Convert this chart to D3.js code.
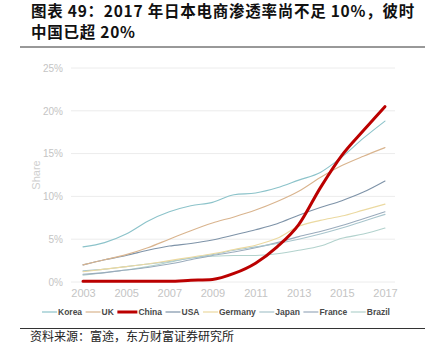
<!DOCTYPE html>
<html lang="zh">
<head>
<meta charset="UTF-8">
<title>日本电商渗透率</title>
<script src="https://cdn.jsdelivr.net/npm/d3@7"></script>
<style>
  body { margin: 0; background: #fff; }
  svg { display: block; }
</style>
</head>
<body>
<script>
// data (share of retail, %)
const years = d3.range(2003, 2018);
const korea   = [4.1, 4.6, 5.6, 7.1, 8.2, 8.9, 9.3, 10.2, 10.4, 11.0, 11.9, 12.8, 14.6, 16.8, 18.8];
const uk      = [2.0, 2.6, 3.2, 4.0, 5.0, 6.0, 6.9, 7.6, 8.4, 9.4, 10.6, 12.2, 13.6, 14.7, 15.7];
const china   = [0.1, 0.1, 0.1, 0.1, 0.1, 0.2, 0.3, 1.0, 2.2, 4.1, 6.7, 11.0, 14.8, 17.7, 20.5];
const usa     = [2.0, 2.6, 3.1, 3.7, 4.2, 4.5, 4.9, 5.5, 6.1, 6.8, 7.8, 8.7, 9.5, 10.5, 11.8];
const germany = [1.2, 1.5, 1.8, 2.1, 2.5, 2.9, 3.3, 3.8, 4.3, 5.1, 6.5, 7.2, 7.7, 8.4, 9.1];
const japan   = [1.3, 1.5, 1.8, 2.1, 2.4, 2.8, 3.2, 3.7, 4.1, 4.5, 5.0, 5.6, 6.3, 7.1, 7.9];
const france  = [0.9, 1.1, 1.4, 1.7, 2.1, 2.6, 3.1, 3.5, 4.0, 4.6, 5.3, 5.9, 6.6, 7.4, 8.2];
const brazil  = [0.8, 1.1, 1.4, 1.8, 2.3, 2.8, 3.0, 3.1, 3.1, 3.3, 3.7, 4.2, 5.1, 5.6, 6.3];

const yTicks = [0, 5, 10, 15, 20, 25];
const xTicks = [2003, 2005, 2007, 2009, 2011, 2013, 2015, 2017];

const series = [
  {name: "Korea",   values: korea,   color: "#8cc3ca", w: 1.1},
  {name: "UK",      values: uk,      color: "#d9b48e", w: 1.1},
  {name: "China",   values: china,   color: "#bb0000", w: 3},
  {name: "USA",     values: usa,     color: "#7e93a8", w: 1.1},
  {name: "Germany", values: germany, color: "#ebd9a0", w: 1.1},
  {name: "Japan",   values: japan,   color: "#a8c5cc", w: 1.1},
  {name: "France",  values: france,  color: "#9aabbc", w: 1.1},
  {name: "Brazil",  values: brazil,  color: "#b2d2cd", w: 1.1}
];

const W = 440, H = 352;
const svg = d3.select("body").append("svg")
  .attr("width", W)
  .attr("height", H);

// title, two lines
const titleLines = ["图表 49：2017 年日本电商渗透率尚不足 10%，彼时", "中国已超 20%"];
svg.append("g").selectAll("text")
  .data(titleLines)
  .enter().append("text")
  .attr("x", 31)
  .attr("y", (d, i) => 17 + i * 21)
  .attr("font-family", "'Noto Sans CJK SC', sans-serif")
  .attr("font-weight", "bold")
  .attr("font-size", 15.5)
  .attr("letter-spacing", 0.75)
  .attr("fill", "#111")
  .text(d => d);

svg.append("line")
  .attr("x1", 20).attr("x2", 425)
  .attr("y1", 47).attr("y2", 47)
  .attr("stroke", "#333").attr("stroke-width", 1);

// scales
const x = d3.scaleLinear().domain([2003, 2017]).range([83, 385]);
const y = d3.scaleLinear().domain([0, 25]).range([282, 68]);

// grid
svg.append("g").selectAll("line")
  .data(yTicks)
  .enter().append("line")
  .attr("x1", 71).attr("x2", 395)
  .attr("y1", d => y(d)).attr("y2", d => y(d))
  .attr("stroke", "#ececec").attr("stroke-width", 1);

// y axis labels
const yAxis = svg.append("g")
  .attr("transform", "translate(63,0)")
  .call(d3.axisLeft(y).tickValues(yTicks).tickFormat(d => d + "%").tickSize(0).tickPadding(0));
yAxis.select(".domain").remove();
yAxis.selectAll("text")
  .attr("font-family", "Arial, 'Liberation Sans', sans-serif")
  .attr("font-size", 10)
  .attr("fill", "#c4c4c4");

// x axis labels
const xAxis = svg.append("g")
  .attr("transform", "translate(0,289)")
  .call(d3.axisBottom(x).tickValues(xTicks).tickFormat(d3.format("d")).tickSize(0).tickPadding(0));
xAxis.select(".domain").remove();
xAxis.selectAll("text")
  .attr("font-family", "Arial, 'Liberation Sans', sans-serif")
  .attr("font-size", 11)
  .attr("fill", "#c4c4c4");

svg.append("text")
  .attr("transform", "translate(40,175) rotate(-90)")
  .attr("text-anchor", "middle")
  .attr("font-family", "Arial, 'Liberation Sans', sans-serif")
  .attr("font-size", 11)
  .attr("fill", "#cfcfcf")
  .text("Share");

// lines
const line = d3.line()
  .x((d, i) => x(years[i]))
  .y(d => y(d))
  .curve(d3.curveMonotoneX);

const drawOrder = ["Brazil", "France", "Japan", "Germany", "USA", "UK", "Korea", "China"];
svg.append("g").selectAll("path")
  .data(drawOrder.map(n => series.find(s => s.name === n)))
  .enter().append("path")
  .attr("d", d => line(d.values))
  .attr("fill", "none")
  .attr("stroke", d => d.color)
  .attr("stroke-width", d => d.w)
  .attr("stroke-linejoin", "round")
  .attr("stroke-linecap", "round");

// legend
const legend = svg.append("g").attr("transform", "translate(0,312)");
let lx = 42;
series.forEach(s => {
  const len = s.name === "China" ? 20 : 15;
  legend.append("line")
    .attr("x1", lx).attr("x2", lx + len)
    .attr("y1", 0).attr("y2", 0)
    .attr("stroke", s.color)
    .attr("stroke-width", s.name === "China" ? 3 : 1.2);
  const t = legend.append("text")
    .attr("x", lx + len + 1)
    .attr("y", 3.2)
    .attr("font-family", "Arial, 'Liberation Sans', sans-serif")
    .attr("font-size", 8.5)
    .attr("font-weight", "bold")
    .attr("fill", "#4a4a4a")
    .text(s.name);
  lx += len + 1 + t.node().getComputedTextLength() + 3.5;
});

// source
svg.append("line")
  .attr("x1", 20).attr("x2", 425)
  .attr("y1", 328.5).attr("y2", 328.5)
  .attr("stroke", "#333").attr("stroke-width", 1);

svg.append("text")
  .attr("x", 30)
  .attr("y", 341)
  .attr("font-family", "'Noto Sans CJK SC', sans-serif")
  .attr("font-size", 12)
  .attr("fill", "#222")
  .text("资料来源：富途，东方财富证券研究所");
</script>
</body>
</html>
